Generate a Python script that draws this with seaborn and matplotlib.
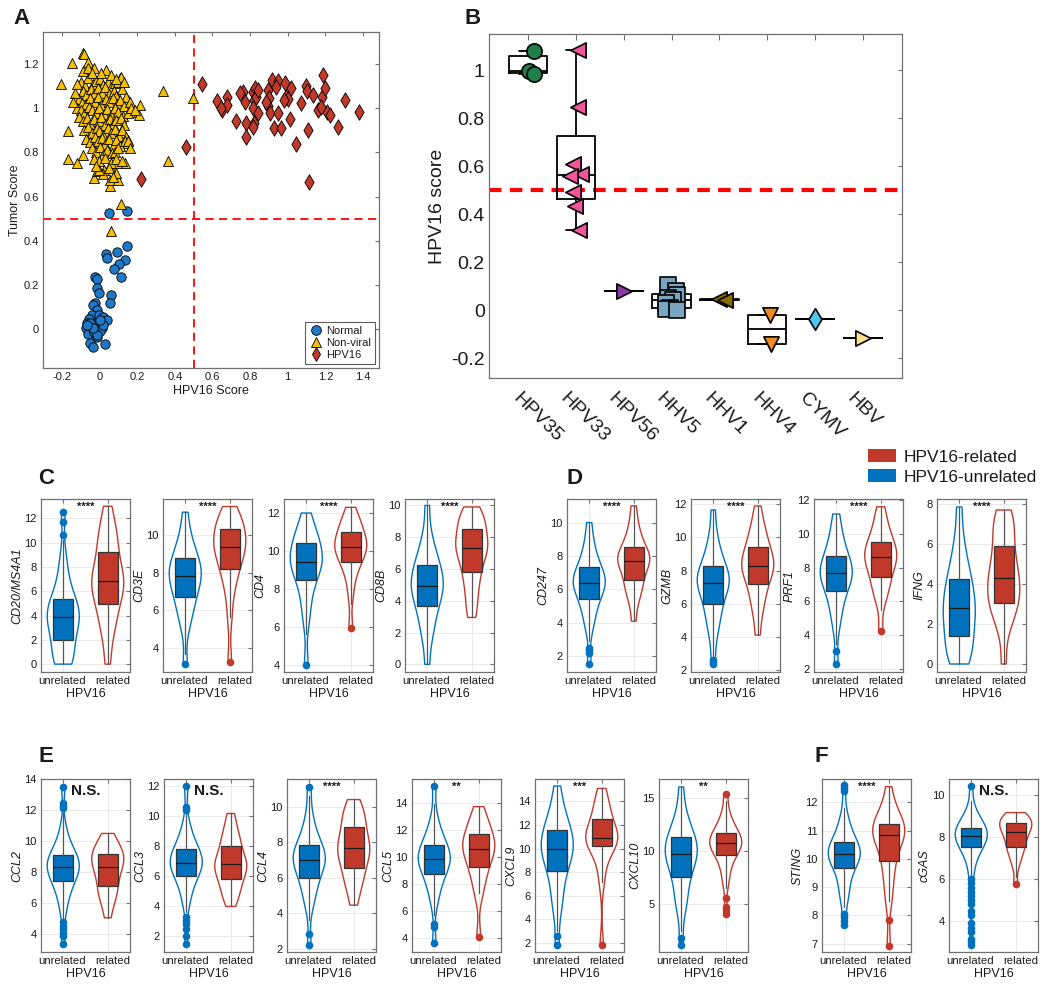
import numpy as np
import pandas as pd
import matplotlib
matplotlib.use("Agg")
import matplotlib.pyplot as plt
import matplotlib.ticker as ticker
import matplotlib.transforms as mtrans
from matplotlib.lines import Line2D
from matplotlib.patches import Patch
import seaborn as sns

# ---------------- Panel A: tumor score vs HPV16 score ----------------
normal_x = [0.049, 0.145, 0.148, 0.092, 0.035, 0.042, 0.136, 0.106, 0.078, 0.113,
            -0.023, -0.011, -0.014, 0.000, 0.060, 0.056, -0.023, -0.032, -0.014, -0.041,
            -0.002, -0.053, 0.021, 0.039, -0.067, -0.023, 0.012, -0.071, -0.041, 0.003,
            -0.059, -0.027, -0.014, -0.050, -0.037, 0.032, -0.011, 0.021, 0.003, -0.050,
            -0.032, -0.064]
normal_y = [0.524, 0.534, 0.377, 0.347, 0.340, 0.320, 0.312, 0.297, 0.270, 0.237,
            0.237, 0.229, 0.184, 0.165, 0.154, 0.116, 0.119, 0.109, 0.086, 0.063,
            0.063, 0.048, 0.056, 0.041, 0.029, 0.018, 0.003, 0.006, -0.005, -0.008,
            -0.020, -0.015, -0.035, -0.062, -0.080, -0.069, -0.027, 0.018, 0.041, 0.026,
            0.003, 0.018]

nonviral_x = [-0.204, -0.147, -0.089, -0.080, -0.062, -0.027, 0.035, 0.336, 0.498, 0.366,
              0.215, 0.212, 0.113, 0.062, -0.165, -0.165, -0.117, -0.085, -0.027, -0.014,
              0.025, 0.056, 0.056, 0.101, 0.089, 0.136, 0.145, 0.154, 0.154, 0.162,
              0.109, 0.092, 0.056,
              -0.10, -0.075, -0.06, -0.035, -0.02, 0.005, 0.02, 0.045, 0.06, 0.085, 0.10, 0.115,
              -0.09, -0.07, -0.045, -0.03, -0.01, 0.015, 0.03, 0.05, 0.075, 0.09, 0.12, 0.14,
              -0.11, -0.095, -0.07, -0.05, -0.025, -0.01, 0.01, 0.035, 0.05, 0.07, 0.095, 0.11, 0.13, 0.16,
              -0.12, -0.10, -0.08, -0.055, -0.04, -0.02, 0.0, 0.025, 0.04, 0.06, 0.085, 0.10, 0.125, 0.15,
              -0.11, -0.09, -0.065, -0.05, -0.03, -0.005, 0.01, 0.03, 0.055, 0.07, 0.09, 0.115, 0.13,
              -0.08, -0.06, -0.04, -0.015, 0.0, 0.02, 0.045, 0.06, 0.08, 0.105, 0.12, 0.14,
              -0.07, -0.05, -0.025, -0.01, 0.015, 0.03, 0.05, 0.075, 0.09, 0.11, 0.135,
              -0.04, -0.02, 0.005, 0.02, 0.04, 0.065, 0.08, 0.10,
              -0.03, 0.0, 0.03, 0.06, 0.09, 0.12, 0.15, 0.16,
              -0.13, -0.12, -0.09, -0.06, -0.04, 0.01, 0.06, 0.09, 0.13, 0.17, -0.14, 0.19,
              0.02, 0.0, 0.05, 0.07, -0.02]
nonviral_y = [1.108, 1.203, 1.248, 1.245, 1.211, 1.180, 1.173, 1.079, 1.045, 0.761,
              1.014, 0.969, 0.565, 0.445, 0.897, 0.768, 0.750, 0.788, 0.682, 0.717,
              0.720, 0.648, 0.675, 0.675, 0.705, 0.753, 0.841, 0.856, 1.037, 0.984,
              1.135, 0.750, 0.735,
              1.12, 1.10, 1.135, 1.11, 1.125, 1.13, 1.105, 1.12, 1.095, 1.115, 1.12, 1.14,
              1.08, 1.06, 1.085, 1.065, 1.09, 1.07, 1.095, 1.065, 1.08, 1.055, 1.085, 1.05,
              1.04, 1.025, 1.02, 1.045, 1.03, 1.05, 1.015, 1.04, 1.03, 1.045, 1.02, 1.035, 1.01, 1.03,
              1.0, 0.99, 0.975, 1.005, 0.99, 0.98, 1.0, 0.975, 0.995, 0.97, 1.0, 0.985, 0.965, 0.98,
              0.96, 0.94, 0.955, 0.93, 0.95, 0.94, 0.96, 0.925, 0.95, 0.93, 0.945, 0.955, 0.925,
              0.90, 0.915, 0.89, 0.91, 0.895, 0.88, 0.91, 0.89, 0.905, 0.875, 0.90, 0.87,
              0.86, 0.845, 0.87, 0.85, 0.865, 0.84, 0.86, 0.835, 0.855, 0.83, 0.85,
              0.82, 0.80, 0.825, 0.79, 0.81, 0.795, 0.80, 0.82,
              0.77, 0.76, 0.775, 0.75, 0.77, 0.76, 0.85, 0.82,
              1.07, 1.11, 1.17, 1.18, 1.16, 1.16, 1.15, 1.13, 1.12, 1.0, 1.03, 0.99,
              0.70, 0.72, 0.73, 0.69, 0.74]

hpv16_x = [0.546, 0.458, 0.223, 0.626, 0.649, 0.675, 0.680, 0.725, 0.760, 0.772,
           0.781, 0.781, 0.813, 0.825, 0.820, 0.834, 0.843, 0.817, 0.822, 0.813,
           0.896, 0.901, 0.893, 0.905, 0.919, 0.946, 0.951, 0.926, 0.962, 0.985,
           0.993, 1.004, 1.016, 1.011, 1.043, 1.069, 1.099, 1.105, 1.110, 1.114,
           1.135, 1.161, 1.188, 1.184, 1.197, 1.209, 1.223, 1.267, 1.303, 1.379,
           0.979, 0.887, 0.746, 0.645, 0.843, 0.940, 1.176]
hpv16_y = [1.109, 0.826, 0.679, 1.034, 0.992, 1.052, 1.014, 0.943, 1.075, 1.029,
           0.931, 0.871, 1.075, 1.090, 1.037, 1.052, 1.082, 0.999, 0.931, 0.916,
           1.082, 1.045, 1.010, 0.977, 1.128, 1.123, 0.977, 0.912, 0.912, 1.115,
           1.052, 1.041, 1.093, 0.951, 0.838, 1.022, 1.100, 1.079, 0.901, 0.664,
           1.060, 0.992, 1.150, 1.052, 1.090, 0.984, 0.969, 0.916, 1.037, 0.984,
           1.037, 1.029, 1.067, 1.000, 0.977, 1.097, 1.007]

# ---------------- Panel B: HPV16 score of other viruses ----------------
virus_names = ["HPV35", "HPV33", "HPV56", "HHV5", "HHV1", "HHV4", "CYMV", "HBV"]
hpv35 = [1.079, 0.996, 0.985]
hpv33 = [1.083, 0.846, 0.608, 0.567, 0.560, 0.492, 0.433, 0.333]
hpv56 = [0.079]
hhv5 = [0.105, 0.080, 0.062, 0.050, 0.040, 0.030, 0.010, 0.004, 0.0]
hhv1 = [0.045, 0.042]
hhv4 = [-0.02, -0.14]
cymv = [-0.037]
hbv = [-0.117]
virus_colors = ["#1e7f48", "#f2559b", "#8e3aa6", "#7aa5c0", "#8a6c00", "#f28b27", "#4fc4f0", "#fde08b"]
virus_markers = ["o", "<", ">", "s", "<", "v", "d", ">"]

# ---------------- Panels C-F: expression, 21 quantiles (0..100 %) per group ----------------
cd20_u = [0, 0, 0.4, 0.9, 1.5, 2.0, 2.5, 2.9, 3.3, 3.6, 3.85, 4.1, 4.4, 4.7, 5.0, 5.35, 5.9, 6.6, 7.6, 9.0, 12.5]
cd20_r = [0, 2.0, 3.0, 3.7, 4.4, 4.95, 5.5, 5.9, 6.3, 6.6, 6.85, 7.2, 7.6, 8.0, 8.6, 9.25, 9.8, 10.4, 11.0, 11.8, 13.0]
cd3e_u = [3.15, 5.0, 5.6, 6.0, 6.4, 6.69, 6.95, 7.2, 7.45, 7.65, 7.82, 8.0, 8.15, 8.3, 8.5, 8.76, 9.0, 9.3, 9.7, 10.2, 11.2]
cd3e_r = [3.25, 5.6, 6.8, 7.4, 7.9, 8.19, 8.5, 8.8, 9.0, 9.2, 9.34, 9.5, 9.7, 9.85, 10.05, 10.29, 10.5, 10.7, 10.9, 11.1, 11.5]
cd4_u = [4.0, 6.2, 7.0, 7.6, 8.1, 8.46, 8.75, 9.0, 9.2, 9.3, 9.44, 9.6, 9.8, 10.0, 10.2, 10.4, 10.6, 10.85, 11.1, 11.5, 12.0]
cd4_r = [5.95, 7.6, 8.4, 8.9, 9.2, 9.44, 9.65, 9.85, 10.0, 10.1, 10.23, 10.35, 10.5, 10.6, 10.8, 11.0, 11.2, 11.4, 11.6, 11.9, 12.3]
cd8b_u = [0, 1.5, 2.2, 2.7, 3.2, 3.64, 4.0, 4.3, 4.55, 4.75, 4.96, 5.2, 5.45, 5.7, 5.95, 6.26, 6.6, 7.0, 7.5, 8.3, 10.0]
cd8b_r = [2.95, 3.6, 4.3, 4.9, 5.4, 5.8, 6.2, 6.6, 6.9, 7.1, 7.31, 7.5, 7.7, 7.9, 8.2, 8.52, 8.8, 9.05, 9.3, 9.55, 9.9]
cd247_u = [1.53, 3.6, 4.2, 4.7, 5.1, 5.42, 5.7, 5.95, 6.15, 6.3, 6.41, 6.55, 6.7, 6.85, 7.05, 7.33, 7.6, 7.95, 8.4, 9.0, 10.0]
cd247_r = [4.1, 5.2, 5.7, 6.0, 6.3, 6.57, 6.9, 7.2, 7.45, 7.6, 7.73, 7.85, 7.95, 8.05, 8.25, 8.51, 8.8, 9.1, 9.5, 10.1, 11.0]
gzmb_u = [2.4, 4.0, 4.7, 5.2, 5.6, 6.0, 6.4, 6.75, 7.0, 7.15, 7.28, 7.45, 7.6, 7.8, 8.0, 8.28, 8.6, 9.0, 9.5, 10.2, 11.64]
gzmb_r = [4.12, 5.3, 5.9, 6.4, 6.8, 7.18, 7.5, 7.8, 8.0, 8.15, 8.3, 8.5, 8.7, 8.9, 9.15, 9.44, 9.75, 10.1, 10.5, 11.0, 11.88]
prf1_u = [2.3, 4.4, 5.2, 5.7, 6.2, 6.59, 6.9, 7.15, 7.35, 7.5, 7.67, 7.85, 8.0, 8.2, 8.4, 8.69, 9.0, 9.35, 9.8, 10.4, 11.17]
prf1_r = [4.26, 5.9, 6.4, 6.8, 7.15, 7.43, 7.75, 8.0, 8.25, 8.45, 8.61, 8.75, 8.9, 9.1, 9.3, 9.54, 9.8, 10.1, 10.5, 11.0, 11.6]
ifng_u = [0, 0, 0.4, 0.8, 1.1, 1.38, 1.7, 2.0, 2.3, 2.55, 2.8, 3.05, 3.3, 3.6, 3.9, 4.24, 4.6, 5.0, 5.6, 6.4, 7.85]
ifng_r = [0, 1.6, 2.2, 2.6, 2.85, 3.05, 3.3, 3.6, 3.85, 4.05, 4.28, 4.55, 4.85, 5.15, 5.5, 5.92, 6.3, 6.7, 7.1, 7.45, 7.7]
ccl2_u = [3.35, 5.4, 6.2, 6.7, 7.1, 7.4, 7.65, 7.85, 8.05, 8.2, 8.35, 8.5, 8.6, 8.75, 8.9, 9.1, 9.35, 9.65, 10.1, 10.9, 13.5]
ccl2_r = [5.05, 5.8, 6.2, 6.55, 6.85, 7.1, 7.4, 7.7, 7.95, 8.15, 8.35, 8.55, 8.75, 8.9, 9.05, 9.2, 9.4, 9.6, 9.85, 10.15, 10.5]
ccl3_u = [1.5, 4.0, 4.8, 5.3, 5.7, 6.05, 6.3, 6.5, 6.65, 6.8, 6.9, 7.05, 7.2, 7.4, 7.6, 7.8, 8.05, 8.4, 8.9, 9.6, 12.0]
ccl3_r = [4.0, 4.5, 4.9, 5.2, 5.5, 5.8, 6.05, 6.3, 6.5, 6.65, 6.8, 6.95, 7.15, 7.4, 7.7, 8.0, 8.3, 8.6, 9.0, 9.5, 10.2]
ccl4_u = [2.2, 4.3, 4.9, 5.3, 5.7, 6.0, 6.3, 6.55, 6.75, 6.9, 7.0, 7.15, 7.3, 7.45, 7.6, 7.85, 8.1, 8.45, 8.9, 9.6, 11.1]
ccl4_r = [4.45, 5.2, 5.6, 5.95, 6.3, 6.55, 6.85, 7.1, 7.3, 7.5, 7.65, 7.85, 8.05, 8.3, 8.55, 8.85, 9.1, 9.4, 9.7, 10.0, 10.4]
ccl5_u = [3.6, 6.5, 7.3, 7.9, 8.35, 8.75, 9.05, 9.3, 9.5, 9.7, 9.85, 10.0, 10.2, 10.4, 10.6, 10.9, 11.2, 11.6, 12.1, 12.9, 15.2]
ccl5_r = [4.1, 7.0, 7.8, 8.4, 8.85, 9.25, 9.6, 9.95, 10.2, 10.4, 10.6, 10.8, 11.0, 11.2, 11.45, 11.7, 12.0, 12.3, 12.7, 13.1, 13.7]
cxcl9_u = [1.8, 4.5, 5.6, 6.5, 7.3, 8.1, 8.6, 9.0, 9.4, 9.7, 9.97, 10.3, 10.6, 10.9, 11.2, 11.6, 12.0, 12.5, 13.1, 13.9, 15.3]
cxcl9_r = [1.85, 7.0, 8.3, 9.2, 9.8, 10.2, 10.45, 10.65, 10.8, 10.85, 10.9, 11.1, 11.4, 11.7, 12.1, 12.5, 12.9, 13.3, 13.8, 14.4, 15.1]
cxcl10_u = [1.2, 4.2, 5.2, 6.0, 6.9, 7.59, 8.2, 8.7, 9.1, 9.4, 9.69, 10.0, 10.3, 10.6, 10.9, 11.28, 11.7, 12.2, 12.9, 13.9, 16.0]
cxcl10_r = [4.1, 6.8, 7.8, 8.6, 9.2, 9.62, 9.95, 10.2, 10.4, 10.55, 10.72, 10.9, 11.05, 11.2, 11.45, 11.72, 12.0, 12.4, 12.9, 13.7, 15.4]
sting_u = [7.6, 8.5, 8.85, 9.1, 9.4, 9.67, 9.8, 9.92, 10.02, 10.1, 10.16, 10.23, 10.3, 10.38, 10.48, 10.6, 10.75, 10.95, 11.2, 11.55, 12.6]
sting_r = [6.9, 8.4, 8.9, 9.3, 9.65, 9.93, 10.2, 10.45, 10.6, 10.75, 10.85, 10.92, 11.0, 11.07, 11.15, 11.22, 11.35, 11.5, 11.7, 12.0, 12.55]
cgas_u = [2.9, 5.6, 6.5, 7.0, 7.3, 7.51, 7.65, 7.78, 7.88, 7.97, 8.05, 8.12, 8.18, 8.25, 8.33, 8.44, 8.55, 8.7, 8.9, 9.2, 10.4]
cgas_r = [5.75, 6.6, 6.95, 7.2, 7.38, 7.53, 7.7, 7.85, 8.0, 8.15, 8.25, 8.35, 8.45, 8.55, 8.62, 8.68, 8.78, 8.88, 8.98, 9.07, 9.15]

# whisker ends (unrelated, related) and outlier points (unrelated, related)
cd20_w, cd20_o = [(0, 10.2), (0, 13.0)], ([10.6, 11.7, 12.5], [])
cd3e_w, cd3e_o = [(3.7, 11.2), (5.65, 11.5)], ([3.15], [3.25])
cd4_w, cd4_o = [(5.6, 12.0), (7.2, 12.3)], ([4.0], [5.95])
cd8b_w, cd8b_o = [(0, 10.0), (2.95, 9.9)], ([], [])
cd247_w, cd247_o = [(2.9, 10.0), (4.1, 11.0)], ([1.53, 2.19, 2.35, 2.49], [])
gzmb_w, gzmb_o = [(2.8, 11.64), (4.12, 11.88)], ([2.4, 2.5, 2.6], [])
prf1_w, prf1_o = [(3.5, 11.17), (5.5, 11.6)], ([2.3, 3.05], [4.26])
ifng_w, ifng_o = [(0, 7.85), (0, 7.7)], ([], [])
ccl2_w, ccl2_o = [(5.0, 11.8), (5.05, 10.5)], ([3.35, 3.9, 4.1, 4.3, 4.55, 4.8, 12.15, 12.3, 12.45, 13.5], [])
ccl3_w, ccl3_o = [(3.6, 10.2), (4.0, 10.2)], ([1.5, 2.0, 2.5, 2.8, 3.05, 3.3, 10.45, 10.6, 12.0], [])
ccl4_w, ccl4_o = [(3.6, 10.6), (4.45, 10.4)], ([2.2, 2.85, 11.1], [])
ccl5_w, ccl5_o = [(5.7, 13.9), (7.3, 13.7)], ([3.6, 4.85, 5.0, 15.2], [4.1])
cxcl9_w, cxcl9_o = [(3.0, 15.3), (7.2, 15.1)], ([1.8, 2.6], [1.85])
cxcl10_w, cxcl10_o = [(2.5, 16.0), (6.5, 14.7)], ([1.2, 1.8], [4.1, 4.4, 4.7, 5.6, 15.35])
sting_w, sting_o = [(8.3, 11.8), (8.5, 12.55)], ([7.65, 7.8, 7.95, 8.05, 12.4, 12.5, 12.6], [6.92, 7.85])
cgas_w, cgas_o = [(6.1, 9.7), (6.1, 9.15)], ([2.9, 3.0, 3.15, 3.5, 3.7, 3.9, 4.3, 4.5, 4.8, 5.0,
                                               5.2, 5.4, 5.6, 5.8, 6.0, 10.4], [5.75])

GROUPS = ["unrelated", "related"]
BLUE, RED = "#0072BD", "#C0392B"

sns.set_theme(style="white")
plt.rcParams["font.family"] = ["Liberation Sans", "DejaVu Sans"]
plt.rcParams["axes.edgecolor"] = "#707070"
plt.rcParams["axes.linewidth"] = 0.9
plt.rcParams["text.color"] = "#1a1a1a"
plt.rcParams["axes.labelcolor"] = "#1a1a1a"

W, H = 1050, 990
fig = plt.figure(figsize=(W / 100, H / 100), dpi=100)


def px_axes(l, t, r, b):
    return fig.add_axes([l / W, 1 - b / H, (r - l) / W, (b - t) / H])


def matlab_ticks(ax, size):
    ax.tick_params(direction="in", top=True, right=True, length=3, width=0.8,
                   color="#707070", labelcolor="#1a1a1a", labelsize=size, pad=3)


def shift(label, dx, dy):
    label.set_transform(label.get_transform() + mtrans.ScaledTranslation(dx / 100, dy / 100, fig.dpi_scale_trans))


gfmt = ticker.FuncFormatter(lambda v, p: f"{round(v, 2):g}")

# ---------------- A ----------------
axA = px_axes(43, 32, 379, 368)
sns.scatterplot(x=normal_x, y=normal_y, marker="o", s=46, color="#1F78C8",
                edgecolor="black", linewidth=0.6, ax=axA, zorder=3)
sns.scatterplot(x=nonviral_x, y=nonviral_y, marker="^", s=52, color="#F5C000",
                edgecolor="black", linewidth=0.6, ax=axA, zorder=3)
sns.scatterplot(x=hpv16_x, y=hpv16_y, marker="d", s=62, color="#C0392B",
                edgecolor="black", linewidth=0.6, ax=axA, zorder=3)
axA.axvline(0.5, color="red", ls=(0, (4.5, 3)), lw=1.3, zorder=2)
axA.axhline(0.5, color="red", ls=(0, (4.5, 3)), lw=1.3, zorder=2)
axA.set_xlim(-0.3, 1.485)
axA.set_ylim(-0.176, 1.345)
axA.set_xticks(np.arange(-0.2, 1.41, 0.2))
axA.set_yticks(np.arange(0, 1.21, 0.2))
axA.xaxis.set_major_formatter(gfmt)
axA.yaxis.set_major_formatter(gfmt)
matlab_ticks(axA, 8)
axA.set_xlabel("HPV16 Score", fontsize=9, labelpad=2)
axA.set_ylabel("Tumor Score", fontsize=9, labelpad=2)
handles = [Line2D([], [], ls="none", marker="o", ms=7, mfc="#1F78C8", mec="black", mew=0.6),
           Line2D([], [], ls="none", marker="^", ms=7, mfc="#F5C000", mec="black", mew=0.6),
           Line2D([], [], ls="none", marker="d", ms=7.5, mfc="#C0392B", mec="black", mew=0.6)]
legA = axA.legend(handles, ["Normal", "Non-viral", "HPV16"], loc="lower right", fontsize=8,
                  frameon=True, fancybox=False, edgecolor="#333333", borderpad=0.3,
                  handletextpad=0.2, labelspacing=0.2, borderaxespad=0.4, handlelength=1.4)
legA.get_frame().set_linewidth(0.8)

# ---------------- B ----------------
axB = px_axes(489, 34, 902, 378)
virus_vals = [hpv35, hpv33, hpv56, hhv5, hhv1, hhv4, cymv, hbv]
stats = []
for vals in virus_vals:
    q1, med, q3 = np.percentile(vals, [25, 50, 75], method="hazen")
    iqr = q3 - q1
    inside = [v for v in vals if q1 - 1.5 * iqr <= v <= q3 + 1.5 * iqr]
    stats.append(dict(q1=q1, med=med, q3=q3, whislo=min(inside), whishi=max(inside), fliers=[]))
axB.bxp(stats, positions=range(len(virus_names)), widths=0.8, manage_ticks=False,
        boxprops=dict(color="black", linewidth=1.3), medianprops=dict(color="black", linewidth=1.3),
        whiskerprops=dict(color="black", linewidth=1.3), capprops=dict(color="black", linewidth=1.3),
        zorder=2)
axB.axhline(0.5, color="red", ls=(0, (3, 2)), lw=3, zorder=1)
np.random.seed(4)
for name, vals, col, mk in zip(virus_names, virus_vals, virus_colors, virus_markers):
    sns.stripplot(x=[name] * len(vals), y=vals, order=virus_names, color=col, marker=mk,
                  size=11, edgecolor="black", linewidth=1.2, jitter=0.12, ax=axB, zorder=3)
axB.set_xlim(-0.82, 7.82)
axB.set_ylim(-0.283, 1.15)
axB.set_yticks(np.arange(-0.2, 1.01, 0.2))
axB.yaxis.set_major_formatter(gfmt)
matlab_ticks(axB, 14)
axB.tick_params(axis="x", length=4, pad=6)
axB.set_xticks(range(len(virus_names)))
axB.set_xticklabels(virus_names, rotation=-45, ha="left", va="center", rotation_mode="anchor", fontsize=14)
for lab in axB.get_xticklabels():
    shift(lab, -13, -9)
axB.set_xlabel("")
axB.set_ylabel("HPV16 score", fontsize=14, labelpad=4)


# ---------------- C-F ----------------
def violin_panel(ax, gene, unrel, rel, whis, outs, ylim, yticks, sig):
    df = pd.DataFrame({"HPV16": [GROUPS[0]] * len(unrel) + [GROUPS[1]] * len(rel),
                       "value": unrel + rel})
    sns.violinplot(data=df, x="HPV16", y="value", hue="HPV16", order=GROUPS, hue_order=GROUPS,
                   palette=[BLUE, RED], fill=False, inner=None, cut=0, density_norm="width",
                   width=0.72, bw_adjust=0.7, linewidth=1.0, legend=False, ax=ax)
    st = []
    for vals, (lo, hi), fl in zip((unrel, rel), whis, outs):
        q1, med, q3 = np.percentile(vals, [25, 50, 75])
        st.append(dict(q1=q1, med=med, q3=q3, whislo=lo, whishi=hi, fliers=fl))
    bp = ax.bxp(st, positions=[0, 1], widths=0.46, patch_artist=True, showcaps=False,
                manage_ticks=False, zorder=3,
                boxprops=dict(edgecolor="#333333", linewidth=0.9),
                medianprops=dict(color="#1a1a1a", linewidth=0.9),
                whiskerprops=dict(color="#555555", linewidth=0.9),
                flierprops=dict(marker="o", markersize=5.5, markeredgewidth=0))
    for box, fl, c in zip(bp["boxes"], bp["fliers"], (BLUE, RED)):
        box.set_facecolor(c)
        fl.set_markerfacecolor(c)
    ax.set_xlim(-0.5, 1.5)
    ax.set_ylim(*ylim)
    ax.set_yticks(yticks)
    ax.set_xticks([0, 1])
    ax.set_xticklabels(GROUPS)
    ax.grid(True, color="#e6e6e6", linewidth=0.6)
    ax.set_axisbelow(True)
    matlab_ticks(ax, 8)
    ax.tick_params(axis="x", labelsize=8.2)
    xl = ax.get_xticklabels()
    shift(xl[0], -1, 0)
    shift(xl[1], 5, 0)
    ax.set_xlabel("HPV16", fontsize=9, labelpad=1)
    ax.set_ylabel(gene, fontsize=9, fontstyle="italic", labelpad=1)
    if sig == "N.S.":
        ax.text(0.5, 0.93, sig, transform=ax.transAxes, ha="center", va="center",
                fontsize=11, fontweight="bold")
    else:
        ax.text(0.5, 0.955, sig, transform=ax.transAxes, ha="center", va="center",
                fontsize=8, fontweight="bold")


row_cd = [
    ("CD20/MS4A1", cd20_u, cd20_r, cd20_w, cd20_o, (-0.65, 13.6), range(0, 13, 2), "****"),
    ("CD3E", cd3e_u, cd3e_r, cd3e_w, cd3e_o, (2.73, 11.9), range(4, 11, 2), "****"),
    ("CD4", cd4_u, cd4_r, cd4_w, cd4_o, (3.61, 12.74), range(4, 13, 2), "****"),
    ("CD8B", cd8b_u, cd8b_r, cd8b_w, cd8b_o, (-0.48, 10.4), range(0, 11, 2), "****"),
    ("CD247", cd247_u, cd247_r, cd247_w, cd247_o, (1.06, 11.41), range(2, 11, 2), "****"),
    ("GZMB", gzmb_u, gzmb_r, gzmb_w, gzmb_o, (1.9, 12.3), range(2, 13, 2), "****"),
    ("PRF1", prf1_u, prf1_r, prf1_w, prf1_o, (1.82, 12.06), range(2, 13, 2), "****"),
    ("IFNG", ifng_u, ifng_r, ifng_w, ifng_o, (-0.4, 8.25), range(0, 9, 2), "****"),
]
row_ef = [
    ("CCL2", ccl2_u, ccl2_r, ccl2_w, ccl2_o, (2.84, 14.02), range(4, 15, 2), "N.S."),
    ("CCL3", ccl3_u, ccl3_r, ccl3_w, ccl3_o, (0.96, 12.5), range(2, 13, 2), "N.S."),
    ("CCL4", ccl4_u, ccl4_r, ccl4_w, ccl4_o, (1.81, 11.56), range(2, 11, 2), "****"),
    ("CCL5", ccl5_u, ccl5_r, ccl5_w, ccl5_o, (2.97, 15.74), range(4, 15, 2), "**"),
    ("CXCL9", cxcl9_u, cxcl9_r, cxcl9_w, cxcl9_o, (1.24, 15.9), range(2, 15, 2), "***"),
    ("CXCL10", cxcl10_u, cxcl10_r, cxcl10_w, cxcl10_o, (0.5, 16.75), [5, 10, 15], "**"),
    ("STING", sting_u, sting_r, sting_w, sting_o, (6.71, 12.82), range(7, 13), "****"),
    ("cGAS", cgas_u, cgas_r, cgas_w, cgas_o, (2.55, 10.74), range(4, 11, 2), "N.S."),
]
lefts_cd = [41, 163, 284, 405, 567, 691, 814, 937]
lefts_ef = [41, 164, 287, 412, 535, 659, 822, 949]
for spec, l in zip(row_cd, lefts_cd):
    violin_panel(px_axes(l, 499, l + 89, 672), *spec)
for spec, l in zip(row_ef, lefts_ef):
    violin_panel(px_axes(l, 779, l + 89, 952), *spec)

fig.legend([Patch(fc=RED, ec="none"), Patch(fc=BLUE, ec="none")], ["HPV16-related", "HPV16-unrelated"],
           loc="upper left", bbox_to_anchor=(868 / W, 1 - 449 / H), frameon=False, fontsize=12.5,
           handlelength=1.6, handleheight=0.8, handletextpad=0.45, labelspacing=0.25,
           borderpad=0, borderaxespad=0)

for letter, x, y in [("A", 13, 18), ("B", 465, 18), ("C", 38, 479), ("D", 567, 479),
                     ("E", 38, 757), ("F", 815, 757)]:
    fig.text(x / W, 1 - y / H, letter, fontsize=16, fontweight="bold", ha="left", va="center")

fig.savefig("out.png", dpi=100)
